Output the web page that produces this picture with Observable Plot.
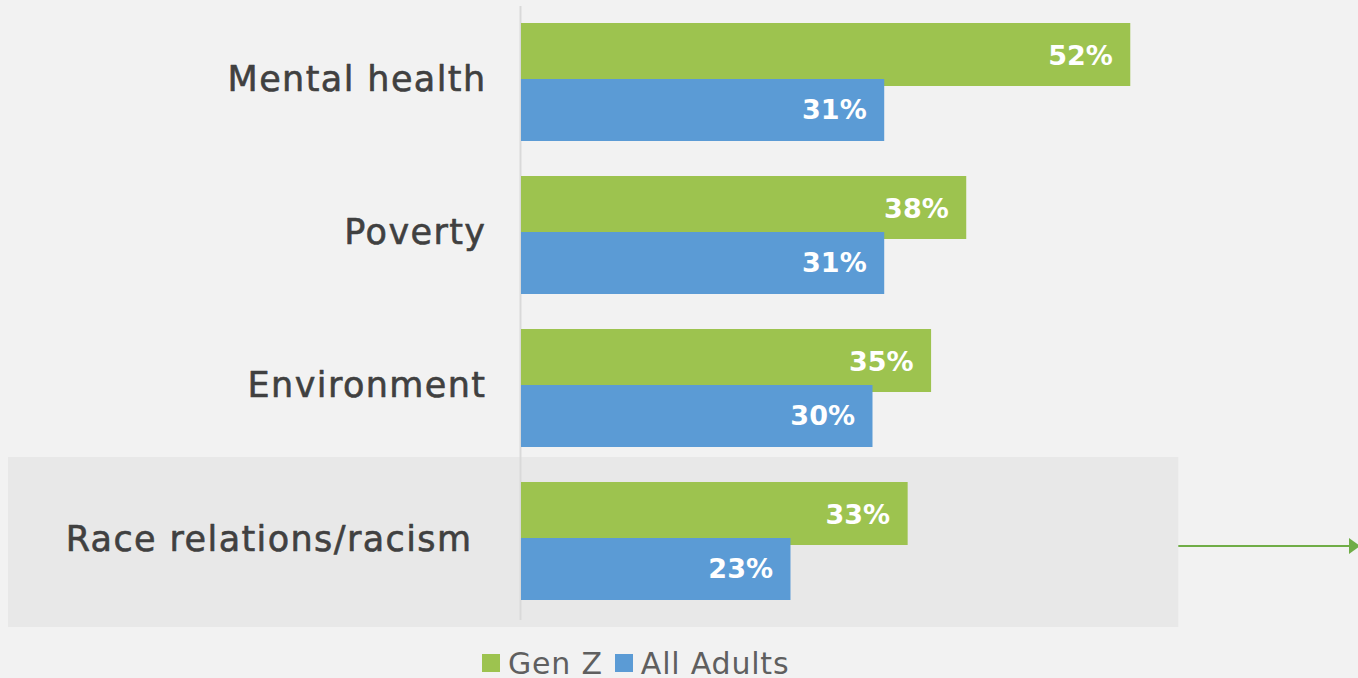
<!DOCTYPE html>
<html><head><meta charset="utf-8">
<script src="https://cdn.jsdelivr.net/npm/d3@7"></script>
<script src="https://cdn.jsdelivr.net/npm/@observablehq/plot@0.6"></script>
<style>
html,body{margin:0;padding:0;background:#f2f2f2;overflow:hidden;}
body{font-family:"DejaVu Sans",sans-serif;width:1358px;height:678px;}
#legend{position:absolute;left:482px;top:645px;height:36px;display:flex;align-items:center;font-size:30px;letter-spacing:0.8px;color:#5f5f5f;font-family:"DejaVu Sans",sans-serif;white-space:nowrap;}
#legend .sw{display:inline-block;width:18px;height:18px;margin-right:8px;}
#legend .item{display:flex;align-items:center;margin-right:12px;}
</style></head>
<body>
<div id="chart"></div>
<div id="legend"></div>
<script>
const categories = ["Mental health", "Poverty", "Environment", "Race relations/racism"];
const genZ = [52, 38, 35, 33];
const allAdults = [31, 31, 30, 23];
const seriesNames = ["Gen Z", "All Adults"];
const seriesColors = ["#9dc34f", "#5b9bd5"];
const highlighted = "Race relations/racism";

const gz = categories.map((c, i) => ({category: c, series: seriesNames[0], value: genZ[i]}));
const aa = categories.map((c, i) => ({category: c, series: seriesNames[1], value: allAdults[i]}));

const W = 1358, H = 640;

function highlightMark(index, scales) {
  const x = scales.x, y = scales.y;
  const bw = y.bandwidth ? y.bandwidth() : 118;
  const y0 = y(highlighted);
  const top = y0 - 25, bottom = y0 + bw + 27;
  const right = x(56.1);
  const g = d3.create("svg:g");
  g.append("rect").attr("x", 8).attr("y", top).attr("width", right - 8).attr("height", bottom - top).attr("fill", "#e8e8e8");
  const ay = y0 + bw / 2 + 5;
  g.append("line").attr("x1", right).attr("x2", W - 8).attr("y1", ay).attr("y2", ay)
    .attr("stroke", "#70ad47").attr("stroke-width", 2);
  g.append("path").attr("d", `M${W - 9},${ay - 8}L${W + 2},${ay}L${W - 9},${ay + 8}Z`).attr("fill", "#70ad47");
  return g.node();
}

const labelFont = {fontSize: 35, fill: "#404040", stroke: "#404040", strokeWidth: 0.6, fontFamily: "'DejaVu Sans', sans-serif"};

const chart = Plot.plot({
  width: W,
  height: H,
  marginLeft: 521,
  marginRight: W - 521 - Math.round(60 * 11.72),
  marginTop: 0,
  marginBottom: H - 623,
  style: {background: "transparent", fontFamily: "'DejaVu Sans', sans-serif", overflow: "visible"},
  x: {domain: [0, 60], axis: null},
  y: {domain: categories, range: [0, 623], paddingInner: 0.2288, paddingOuter: 0.1503, axis: null},
  marks: [
    highlightMark,
    Plot.ruleX([0], {stroke: "#d9d9d9", strokeWidth: 2, dx: -1, insetTop: 6, insetBottom: 3}),
    Plot.barX(gz, {x: "value", y: "category", fill: seriesColors[0], insetBottom: 55}),
    Plot.barX(aa, {x: "value", y: "category", fill: seriesColors[1], insetTop: 56}),
    Plot.text(gz, {x: "value", y: "category", text: d => d.value + "%", textAnchor: "end", dx: -18, dy: -26, fill: "white", fontWeight: "bold", fontSize: 27}),
    Plot.text(aa, {x: "value", y: "category", text: d => d.value + "%", textAnchor: "end", dx: -18, dy: 28, fill: "white", fontWeight: "bold", fontSize: 27}),
    Plot.text(categories.filter(c => c !== highlighted), {x: 0, y: d => d, text: d => d, textAnchor: "end", dx: -35, dy: -3, ...labelFont}),
    Plot.text([highlighted], {x: 0, y: d => d, text: d => d, textAnchor: "end", dx: -49, dy: -2, ...labelFont})
  ]
});
chart.querySelectorAll("text").forEach(t => {
  if (t.getAttribute("font-size") === "35" || t.closest("[font-size='35']")) t.style.letterSpacing = "1.4px";
});
document.getElementById("chart").appendChild(chart);

const legend = d3.select("#legend");
seriesNames.forEach((n, i) => {
  const it = legend.append("div").attr("class", "item");
  it.append("span").attr("class", "sw").style("background", seriesColors[i]);
  it.append("span").text(n);
});
</script>
</body></html>
